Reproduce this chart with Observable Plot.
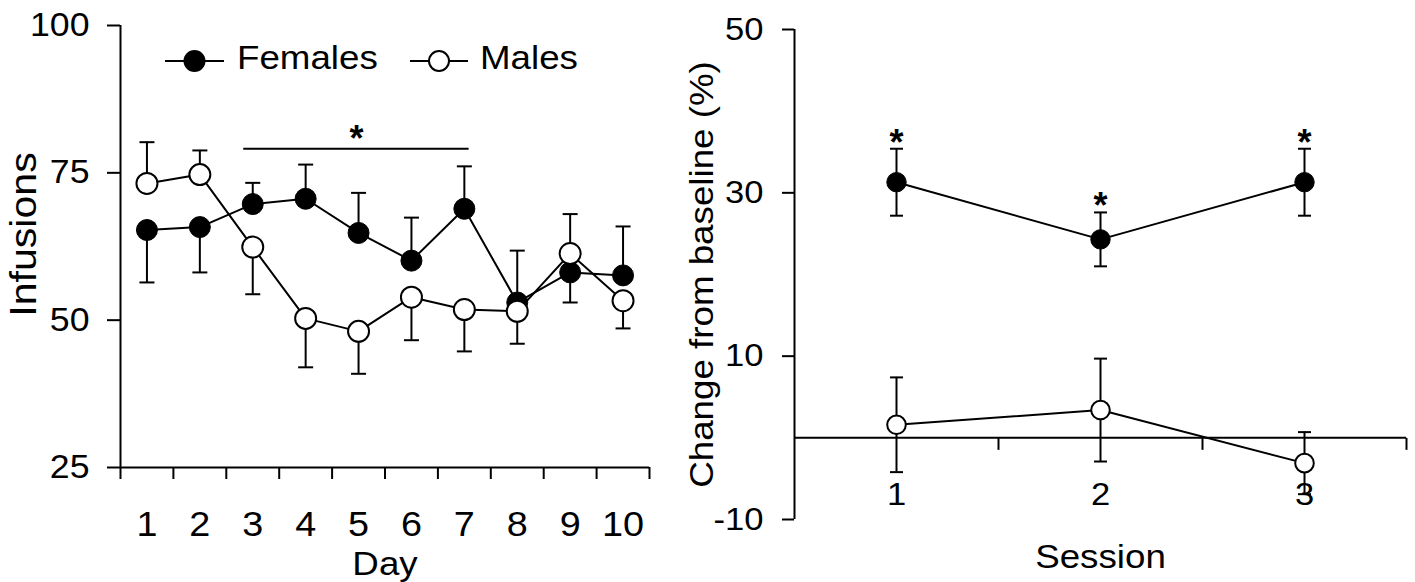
<!DOCTYPE html>
<html><head><meta charset="utf-8">
<script src="https://cdn.jsdelivr.net/npm/d3@7"></script>
<script src="https://cdn.jsdelivr.net/npm/@observablehq/plot@0.6"></script>
<style>
html,body{margin:0;padding:0;background:#fff;}
#wrap{position:relative;width:1415px;height:582px;overflow:hidden;font-family:"Liberation Sans",Arial,sans-serif;}
#wrap > *{position:absolute;top:0;}
</style></head><body><div id="wrap"></div>
<script>
// ---------- Left panel data (Infusions by Day) ----------
const days = [1, 2, 3, 4, 5, 6, 7, 8, 9, 10];
const femalesMean   = [65.3, 65.8, 69.7, 70.6, 64.8, 60.1, 68.9, 53.0, 58.1, 57.6];
const femalesErrEnd = [56.4, 58.1, 73.3, 76.4, 71.6, 67.4, 76.1, 61.8, 53.0, 65.9];
const malesMean     = [73.2, 74.7, 62.4, 50.3, 48.1, 53.9, 51.8, 51.5, 61.3, 53.3];
const malesErrEnd   = [80.2, 78.8, 54.4, 42.0, 40.9, 46.6, 44.7, 46.0, 68.0, 48.6];
const dayBounds = [0.5, 1.5, 2.5, 3.5, 4.5, 5.5, 6.5, 7.5, 8.5, 9.5, 10.5];
const infusionTicks = [25, 50, 75, 100];
const daySigFrom = 2.83, daySigTo = 7.09, daySigLevel = 79.1;

// ---------- Right panel data (Change from baseline by Session) ----------
const sessions = [1, 2, 3];
const femaleChange = [31.3, 24.3, 31.3];
const femaleSE     = [4.1, 3.3, 4.1];
const maleChange   = [1.6, 3.4, -3.1];
const maleSE       = [5.8, 6.3, 3.8];
const femaleSig    = [true, true, true];
const sessionBounds = [1.5, 2.5, 3.5];
const changeTicks = [-10, 10, 30, 50];

const FONT = '"Liberation Sans", Arial, Helvetica, sans-serif';
const H = 582;

const capSymbol = {draw(ctx, size){ const w = Math.sqrt(size / Math.PI); ctx.moveTo(-w, 0); ctx.lineTo(w, 0); }};
const downTick  = {draw(ctx, size){ const w = Math.sqrt(size / Math.PI); ctx.moveTo(0, 0); ctx.lineTo(0, w); }};

const fem = days.map((d, i) => ({day: d, mean: femalesMean[i], end: femalesErrEnd[i]}));
const mal = days.map((d, i) => ({day: d, mean: malesMean[i], end: malesErrEnd[i]}));

const left = Plot.plot({
  width: 680, height: H,
  marginLeft: 120, marginRight: 31, marginTop: 25, marginBottom: 115,
  x: {domain: [0.5, 10.5], axis: null},
  y: {domain: [25, 100], axis: null},
  style: {fontFamily: FONT, fontSize: "34px", color: "black", background: "transparent", overflow: "visible"},
  marks: [
    Plot.ruleX([0.5], {stroke: "black", strokeWidth: 2}),
    Plot.ruleY([25], {stroke: "black", strokeWidth: 2}),
    Plot.axisY({ticks: infusionTicks, tickSize: 13, tickPadding: 18, label: null, fontSize: 33, strokeWidth: 2, tickFormat: d => String(d)}),
    Plot.axisX({ticks: dayBounds, tickSize: 12, tickFormat: () => "", label: null, strokeWidth: 2}),
    Plot.axisX({ticks: days, tickSize: 0, tickPadding: 44, label: null, fontSize: 35, tickFormat: d => String(d)}),
    Plot.text(["Infusions"], {frameAnchor: "left", textAnchor: "middle", rotate: -90, dx: -96, dy: -12, fontSize: 36}),
    Plot.text(["Day"], {frameAnchor: "bottom", textAnchor: "middle", lineAnchor: "top", dy: 83, fontSize: 34}),
    // significance bar
    Plot.ruleY([daySigLevel], {x1: daySigFrom, x2: daySigTo, stroke: "black", strokeWidth: 2}),
    Plot.text(["*"], {x: (daySigFrom + daySigTo) / 2, y: daySigLevel, lineAnchor: "bottom", dy: 2, fontSize: 36, fontWeight: "bold"}),
    // females
    Plot.line(fem, {x: "day", y: "mean", stroke: "black", strokeWidth: 2}),
    Plot.ruleX(fem, {x: "day", y1: "mean", y2: "end", stroke: "black", strokeWidth: 2}),
    Plot.dot(fem, {x: "day", y: "end", symbol: capSymbol, r: 7.5, stroke: "black", strokeWidth: 2}),
    // males
    Plot.line(mal, {x: "day", y: "mean", stroke: "black", strokeWidth: 2}),
    Plot.ruleX(mal, {x: "day", y1: "mean", y2: "end", stroke: "black", strokeWidth: 2}),
    Plot.dot(mal, {x: "day", y: "end", symbol: capSymbol, r: 7.5, stroke: "black", strokeWidth: 2}),
    Plot.dot(fem, {x: "day", y: "mean", r: 10.5, fill: "black", stroke: "black", strokeWidth: 1}),
    Plot.dot(mal, {x: "day", y: "mean", r: 10.5, fill: "white", stroke: "black", strokeWidth: 2})
  ]
});

const femR = sessions.map((s, i) => ({s, mean: femaleChange[i], lo: femaleChange[i] - femaleSE[i], hi: femaleChange[i] + femaleSE[i], sig: femaleSig[i]}));
const malR = sessions.map((s, i) => ({s, mean: maleChange[i], lo: maleChange[i] - maleSE[i], hi: maleChange[i] + maleSE[i]}));

const right = Plot.plot({
  width: 735, height: H,
  marginLeft: 114, marginRight: 9, marginTop: 29, marginBottom: 63,
  x: {domain: [0.5, 3.5], axis: null},
  y: {domain: [-10, 50], axis: null},
  style: {fontFamily: FONT, fontSize: "33px", color: "black", background: "transparent", overflow: "visible"},
  marks: [
    Plot.ruleX([0.5], {stroke: "black", strokeWidth: 2}),
    Plot.ruleY([0], {stroke: "black", strokeWidth: 2}),
    Plot.axisY({ticks: changeTicks, tickSize: 12, tickPadding: 19, label: null, fontSize: 32, strokeWidth: 2, tickFormat: d => String(d)}),
    Plot.dot(sessionBounds, {x: d => d, y: () => 0, symbol: downTick, r: 12, stroke: "black", strokeWidth: 2}),
    Plot.text(sessions, {x: d => d, y: () => 0, text: d => String(d), lineAnchor: "top", dy: 44, fontSize: 32}),
    Plot.text(["Change from baseline (%)"], {frameAnchor: "left", textAnchor: "middle", rotate: -90, dx: -92, fontSize: 34}),
    Plot.text(["Session"], {frameAnchor: "bottom", textAnchor: "middle", lineAnchor: "top", dy: 24, fontSize: 34}),
    // females
    Plot.line(femR, {x: "s", y: "mean", stroke: "black", strokeWidth: 2}),
    Plot.ruleX(femR, {x: "s", y1: "lo", y2: "hi", stroke: "black", strokeWidth: 2}),
    Plot.dot(femR, {x: "s", y: "lo", symbol: capSymbol, r: 6.5, stroke: "black", strokeWidth: 2}),
    Plot.dot(femR, {x: "s", y: "hi", symbol: capSymbol, r: 6.5, stroke: "black", strokeWidth: 2}),
    Plot.text(femR.filter(d => d.sig), {x: "s", y: "hi", text: () => "*", lineAnchor: "bottom", dy: 6, fontSize: 36, fontWeight: "bold"}),
    // males
    Plot.line(malR, {x: "s", y: "mean", stroke: "black", strokeWidth: 2}),
    Plot.ruleX(malR, {x: "s", y1: "lo", y2: "hi", stroke: "black", strokeWidth: 2}),
    Plot.dot(malR, {x: "s", y: "lo", symbol: capSymbol, r: 6.5, stroke: "black", strokeWidth: 2}),
    Plot.dot(malR, {x: "s", y: "hi", symbol: capSymbol, r: 6.5, stroke: "black", strokeWidth: 2}),
    Plot.dot(femR, {x: "s", y: "mean", r: 9.7, fill: "black", stroke: "black", strokeWidth: 1}),
    Plot.dot(malR, {x: "s", y: "mean", r: 9.3, fill: "white", stroke: "black", strokeWidth: 2})
  ]
});

const wrap = document.getElementById("wrap");
left.style.left = "0px";
right.style.left = "680px";
wrap.appendChild(left);
wrap.appendChild(right);

// Legend (overlay)
const legendItems = [
  {label: "Females", fill: "black", x0: 165, x1: 224, text: 237},
  {label: "Males", fill: "white", x0: 410, x1: 468, text: 480}
];
const leg = d3.create("svg").attr("width", 680).attr("height", 100)
  .style("left", "0px").style("font-family", FONT).style("overflow", "visible");
legendItems.forEach(it => {
  const g = leg.append("g");
  g.append("line").attr("x1", it.x0).attr("x2", it.x1).attr("y1", 61).attr("y2", 61).attr("stroke", "black").attr("stroke-width", 2);
  g.append("circle").attr("cx", (it.x0 + it.x1) / 2).attr("cy", 61).attr("r", 10).attr("fill", it.fill).attr("stroke", "black").attr("stroke-width", 2);
  g.append("text").attr("x", it.text).attr("y", 69).attr("font-size", 34).text(it.label);
});
wrap.appendChild(leg.node());

// slight horizontal widening of text to match the reference typeface
wrap.querySelectorAll("text").forEach(t => {
  const s = t.textContent;
  if (!s || s === "*") return;
  const len = t.getComputedTextLength();
  const f = s === "Infusions" ? 1.14 : 1.08;
  if (len > 0) { t.setAttribute("textLength", (len * f).toFixed(1)); t.setAttribute("lengthAdjust", "spacingAndGlyphs"); }
});
</script>
</body></html>
